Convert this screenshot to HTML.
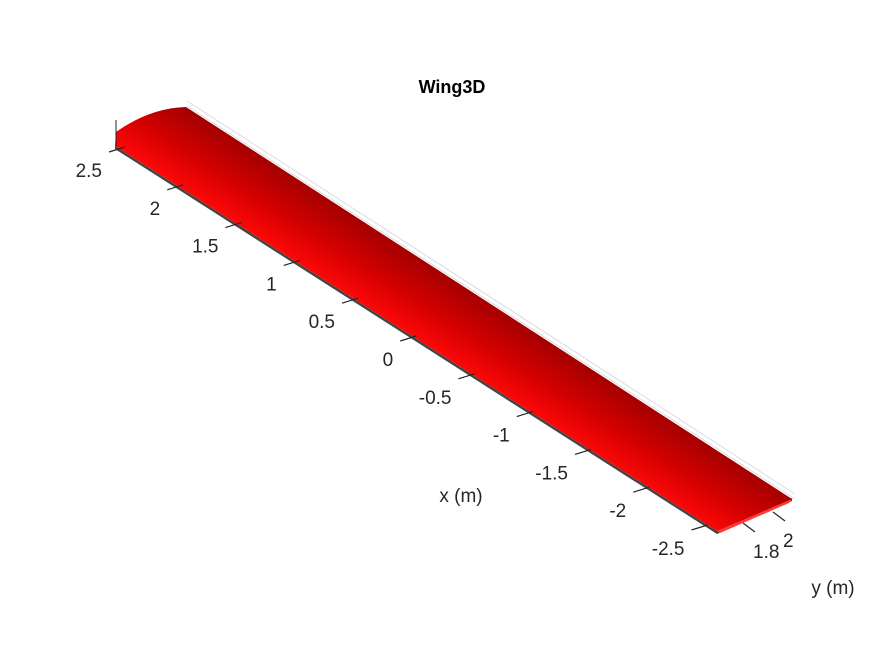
<!DOCTYPE html>
<html><head><meta charset="utf-8"><style>
body{margin:0;background:#fff;}
svg{display:block;font-family:"Liberation Sans",sans-serif;}
</style></head><body>
<svg width="875" height="656" viewBox="0 0 875 656">
<defs>
<linearGradient id="wg" x1="450" y1="362" x2="490" y2="300" gradientUnits="userSpaceOnUse">
<stop offset="0" stop-color="#ff0808"/>
<stop offset="0.45" stop-color="#d40000"/>
<stop offset="1" stop-color="#a00000"/>
</linearGradient>
</defs>
<text x="452" y="93" text-anchor="middle" font-size="18" font-weight="bold" fill="#000">Wing3D</text>
<g id="grid" stroke="#dcdcdc" stroke-width="1" fill="none"></g>
<g id="wing"></g>
<g id="axes"></g>
<text x="461" y="502" text-anchor="middle" font-size="19" fill="#262626">x (m)</text>
<text x="833" y="594" text-anchor="middle" font-size="19" fill="#262626">y (m)</text>
</svg>
<script>
const xTicks=[2.5,2,1.5,1,0.5,0,-0.5,-1,-1.5,-2,-2.5];
const xTickLabels=["2.5","2","1.5","1","0.5","0","-0.5","-1","-1.5","-2","-2.5"];
const yTicks=[1.8,2];
const yTickLabels=["1.8","2"];
const NS="http://www.w3.org/2000/svg";
function mk(tag,attrs,parent){const e=document.createElementNS(NS,tag);for(const k in attrs)e.setAttribute(k,attrs[k]);parent.appendChild(e);return e;}
function xAxis(v){return [125+(2.5-v)*116.5,147+(2.5-v)*75.6];}
function yAxis(v){return [743+(v-1.8)*150,523-(v-1.8)*55];}
const grid=document.getElementById('grid');
const wing=document.getElementById('wing');
const axes=document.getElementById('axes');
let g1=mk('polyline',{points:"187,101 795,494"},grid);


let g2=mk('polyline',{points:"187,106 795,499"},grid);


let under=mk('path',{d:"M115,149 L717,534 L792,501 L792,498 L717,531 L115,146 Z",fill:"#444"},wing);


let w=mk('path',{d:"M115,146 L717,531 L792,499 L186,107 Q150,108 116,132 Z",fill:"url(#wg)"},wing);


let tip=mk('path',{d:"M717,531 L792,499 L789,503 L720,533 Z",fill:"#ff3a3a"},wing);


let zt=mk('line',{x1:116,y1:120,x2:116,y2:146,stroke:"#262626","stroke-width":1},axes);


xTicks.forEach((v,i)=>{
  const [px,py]=xAxis(v);
  const t=mk('line',{x1:px,y1:py,x2:px-16,y2:py+5,stroke:"#262626","stroke-width":1.2},axes);
  
  
  const l=mk('text',{x:px-23,y:py+30,"text-anchor":"end","font-size":19,fill:"#262626"},axes);
  l.textContent=xTickLabels[i];
  
  
});
yTicks.forEach((v,i)=>{
  const [px,py]=yAxis(v);
  const t=mk('line',{x1:px,y1:py,x2:px+12,y2:py+9,stroke:"#262626","stroke-width":1.2},axes);
  
  
  const l=mk('text',{x:px+10,y:py+35,"text-anchor":"start","font-size":19,fill:"#262626"},axes);
  l.textContent=yTickLabels[i];
  
  
});
</script>
</body></html>
